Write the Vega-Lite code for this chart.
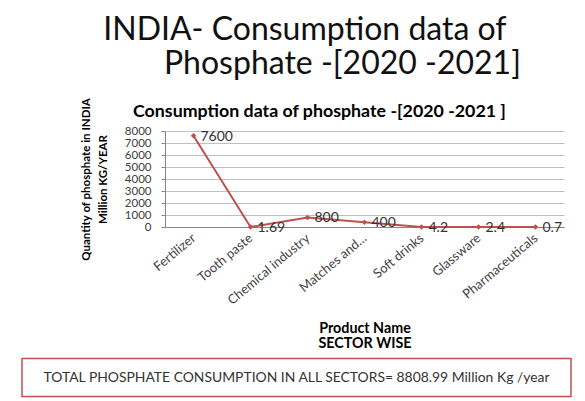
{
  "$schema": "https://vega.github.io/schema/vega-lite/v6.json",
  "padding": {"left": 21, "top": 14, "right": 0, "bottom": 0},
  "background": "white",
  "config": {"font": "Lato", "view": {"stroke": null}},
  "title": {
    "text": "INDIA- Consumption data of",
    "anchor": "start", "align": "left", "frame": "bounds", "dx": 82,
    "fontSize": 32, "fontWeight": "normal", "font": "Lato", "color": "#111",
    "offset": 1
  },
  "datasets": {
    "sectors": [
      {"sector": "Fertilizer", "value": 7600, "label": "7600"},
      {"sector": "Tooth paste", "value": 1.69, "label": "1.69"},
      {"sector": "Chemical industry", "value": 800, "label": "800"},
      {"sector": "Matches and…", "value": 400, "label": "400"},
      {"sector": "Soft drinks", "value": 4.2, "label": "4.2"},
      {"sector": "Glassware", "value": 2.4, "label": "2.4"},
      {"sector": "Pharmaceuticals", "value": 0.7, "label": "0.7"}
    ],
    "total": [{"label": "TOTAL PHOSPHATE CONSUMPTION IN ALL SECTORS= 8808.99 Million Kg /year"}]
  },
  "spacing": 6.5,
  "vconcat": [
    {
      "title": {
        "text": "Phosphate -[2020 -2021]",
        "anchor": "start", "align": "left", "frame": "bounds", "dx": 142,
        "fontSize": 32, "fontWeight": "normal", "font": "Lato", "color": "#111",
        "offset": 13.5
      },
      "spacing": 0,
      "hconcat": [
        {
          "width": 58, "height": 96,
          "data": {"values": [{"t": ""}]},
          "mark": {"type": "text", "opacity": 0},
          "encoding": {"text": {"field": "t"}}
        },
        {
          "width": 399, "height": 96,
          "data": {"name": "sectors"},
          "title": {
            "text": "Consumption data of phosphate -[2020 -2021 ]",
            "anchor": "start", "align": "left", "frame": "group", "dx": -32,
            "fontSize": 17.8, "fontWeight": "bold", "color": "#000", "offset": -26
          },
          "encoding": {
            "x": {
              "field": "sector", "type": "nominal", "sort": null,
              "scale": {"type": "point", "padding": 0.5},
              "axis": {
                "title": ["Product Name", "SECTOR WISE"],
                "titleFontSize": 14.3, "titleFontWeight": "bold", "titleColor": "#000",
                "titleLineHeight": 15.5, "titlePadding": 14,
                "labelAngle": -40, "labelAlign": "right", "labelBaseline": "middle",
                "labelFontSize": 13, "labelColor": "#404040", "labelPadding": 9,
                "labelOverlap": false, "ticks": false, "domainColor": "#868686", "grid": false
              }
            },
            "y": {
              "field": "value", "type": "quantitative",
              "scale": {"domain": [0, 8000], "nice": false},
              "axis": {
                "title": ["Quantity of phosphate  in  INDIA", "Million KG/YEAR"],
                "titleFontSize": 11.5, "titleFontWeight": "bold", "titleColor": "#000",
                "titleLineHeight": 17, "titlePadding": 16,
                "values": [0, 1000, 2000, 3000, 4000, 5000, 6000, 7000, 8000],
                "format": "d",
                "labelFontSize": 11.5, "labelColor": "#404040", "labelPadding": 10,
                "labelOverlap": false, "tickSize": 4, "tickColor": "#868686",
                "domainColor": "#868686", "gridColor": "#c0c0c0"
              }
            }
          },
          "layer": [
            {"mark": {"type": "line", "color": "#c0504d", "strokeWidth": 2}},
            {"mark": {"type": "point", "shape": "diamond", "filled": true, "color": "#c0504d", "size": 30, "opacity": 1}},
            {
              "mark": {"type": "text", "align": "left", "baseline": "middle", "dx": 7, "dy": 1, "fontSize": 14, "color": "#333"},
              "encoding": {"text": {"field": "label"}}
            }
          ]
        }
      ]
    },
    {
      "width": 549, "height": 38,
      "data": {"name": "total"},
      "view": {"stroke": "#c0504d", "strokeWidth": 1.5},
      "mark": {"type": "text", "fontSize": 13.9, "color": "#333", "baseline": "middle"},
      "encoding": {"text": {"field": "label"}}
    }
  ]
}
